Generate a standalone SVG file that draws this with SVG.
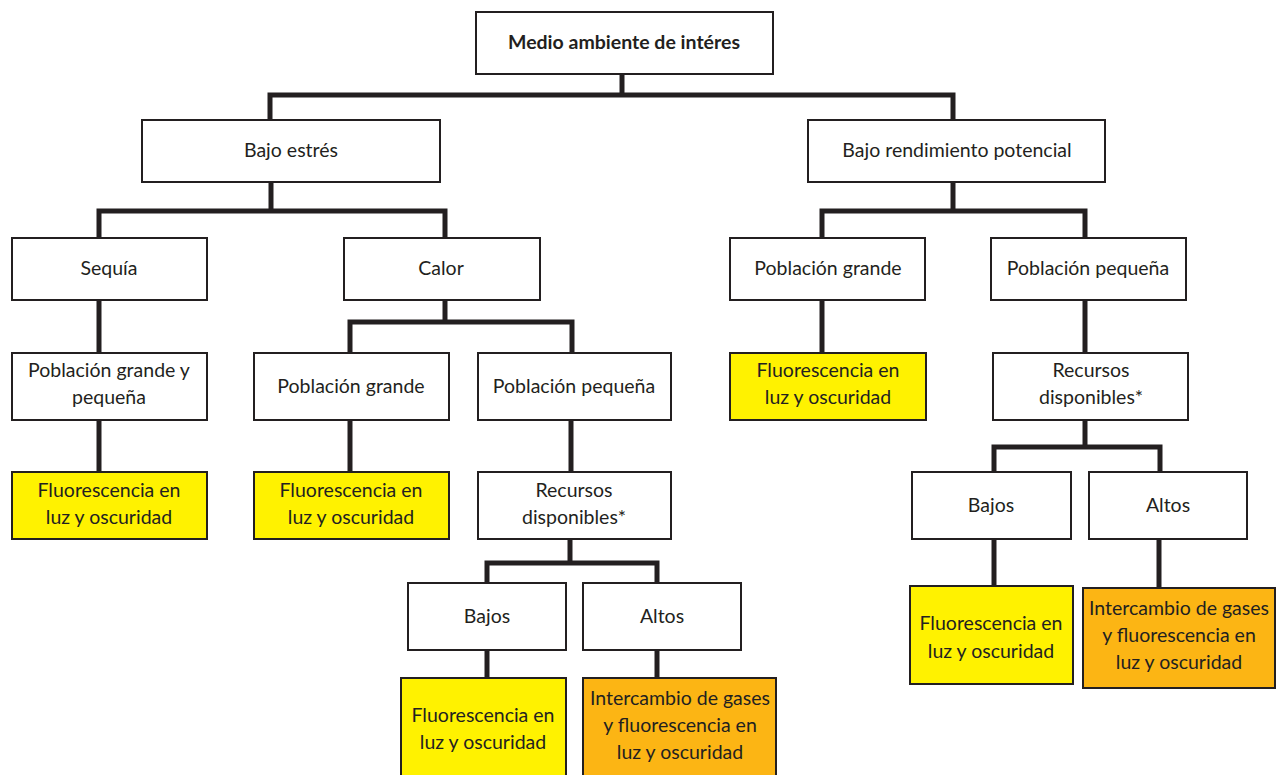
<svg xmlns="http://www.w3.org/2000/svg" width="1282" height="775" viewBox="0 0 1282 775">
<style>
.box{fill:#ffffff;stroke:#231f20;stroke-width:2}
.yel{fill:#fff200;stroke:#231f20;stroke-width:2}
.org{fill:#fcb514;stroke:#231f20;stroke-width:2}
.t{font-family:Lato,"Open Sans","Liberation Sans",sans-serif;font-size:19.5px;fill:#231f20;text-anchor:middle}
.b{font-weight:bold}
.c{fill:none;stroke:#231f20;stroke-width:5;stroke-linejoin:miter;stroke-linecap:butt}
</style>
<rect width="1282" height="775" fill="#ffffff"/>
<g id="connectors">
<path class="c" d="M622,74 V95"/>
<path class="c" d="M270,120 V95 H953 V120"/>
<path class="c" d="M271,182 V211"/>
<path class="c" d="M99,238 V211 H445 V238"/>
<path class="c" d="M99,300 V353"/>
<path class="c" d="M99,420 V472"/>
<path class="c" d="M445,300 V322"/>
<path class="c" d="M350,353 V322 H572 V353"/>
<path class="c" d="M350,420 V472"/>
<path class="c" d="M571,420 V472"/>
<path class="c" d="M570,539 V563"/>
<path class="c" d="M487,583 V563 H657 V583"/>
<path class="c" d="M487,650 V678"/>
<path class="c" d="M657,650 V678"/>
<path class="c" d="M953,182 V211"/>
<path class="c" d="M822,238 V211 H1085 V238"/>
<path class="c" d="M822,300 V353"/>
<path class="c" d="M1085,300 V353"/>
<path class="c" d="M1085,420 V447"/>
<path class="c" d="M994,472 V447 H1160 V472"/>
<path class="c" d="M994,539 V586"/>
<path class="c" d="M1159,539 V588"/>
</g>
<g id="root"><rect class="box" x="476" y="12" width="297" height="62"/><text class="t b" x="624" y="49">Medio ambiente de intéres</text></g>
<g id="bajo-estres"><rect class="box" x="142" y="120" width="298" height="62"/><text class="t" x="291" y="157">Bajo estrés</text></g>
<g id="bajo-rendimiento"><rect class="box" x="808" y="120" width="297" height="62"/><text class="t" x="957" y="157">Bajo rendimiento potencial</text></g>
<g id="sequia"><rect class="box" x="12" y="238" width="195" height="62"/><text class="t" x="109" y="275">Sequía</text></g>
<g id="calor"><rect class="box" x="344" y="238" width="196" height="62"/><text class="t" x="441" y="275">Calor</text></g>
<g id="pob-grande-r"><rect class="box" x="730" y="238" width="195" height="62"/><text class="t" x="828" y="275">Población grande</text></g>
<g id="pob-pequena-r"><rect class="box" x="991" y="238" width="195" height="62"/><text class="t" x="1088" y="275">Población pequeña</text></g>
<g id="pob-grande-pequena"><rect class="box" x="12" y="353" width="195" height="67"/><text class="t" x="109" y="377">Población grande y</text><text class="t" x="109" y="404">pequeña</text></g>
<g id="pob-grande-l"><rect class="box" x="254" y="353" width="195" height="67"/><text class="t" x="351" y="393">Población grande</text></g>
<g id="pob-pequena-l"><rect class="box" x="478" y="353" width="193" height="67"/><text class="t" x="574" y="393">Población pequeña</text></g>
<g id="fluor-r1"><rect class="yel" x="730" y="353" width="196" height="67"/><text class="t" x="828" y="377">Fluorescencia en</text><text class="t" x="828" y="404">luz y oscuridad</text></g>
<g id="recursos-r"><rect class="box" x="993" y="353" width="195" height="67"/><text class="t" x="1091" y="377">Recursos</text><text class="t" x="1091" y="404">disponibles*</text></g>
<g id="fluor-l1"><rect class="yel" x="12" y="472" width="195" height="67"/><text class="t" x="109" y="497">Fluorescencia en</text><text class="t" x="109" y="524">luz y oscuridad</text></g>
<g id="fluor-l2"><rect class="yel" x="254" y="472" width="195" height="67"/><text class="t" x="351" y="497">Fluorescencia en</text><text class="t" x="351" y="524">luz y oscuridad</text></g>
<g id="recursos-l"><rect class="box" x="478" y="472" width="193" height="67"/><text class="t" x="574" y="497">Recursos</text><text class="t" x="574" y="524">disponibles*</text></g>
<g id="bajos-r"><rect class="box" x="912" y="472" width="159" height="67"/><text class="t" x="991" y="512">Bajos</text></g>
<g id="altos-r"><rect class="box" x="1089" y="472" width="158" height="67"/><text class="t" x="1168" y="512">Altos</text></g>
<g id="bajos-l"><rect class="box" x="408" y="583" width="158" height="67"/><text class="t" x="487" y="623">Bajos</text></g>
<g id="altos-l"><rect class="box" x="583" y="583" width="158" height="67"/><text class="t" x="662" y="623">Altos</text></g>
<g id="fluor-r2"><rect class="yel" x="910" y="586" width="163" height="98"/><text class="t" x="991" y="630">Fluorescencia en</text><text class="t" x="991" y="658">luz y oscuridad</text></g>
<g id="gases-r"><rect class="org" x="1083" y="588" width="192" height="100"/><text class="t" x="1179" y="615">Intercambio de gases</text><text class="t" x="1179" y="642">y fluorescencia en</text><text class="t" x="1179" y="669">luz y oscuridad</text></g>
<g id="fluor-l3"><rect class="yel" x="401" y="678" width="165" height="100"/><text class="t" x="483" y="722">Fluorescencia en</text><text class="t" x="483" y="749">luz y oscuridad</text></g>
<g id="gases-l"><rect class="org" x="583" y="678" width="193" height="100"/><text class="t" x="680" y="705">Intercambio de gases</text><text class="t" x="680" y="732">y fluorescencia en</text><text class="t" x="680" y="759">luz y oscuridad</text></g>
</svg>
